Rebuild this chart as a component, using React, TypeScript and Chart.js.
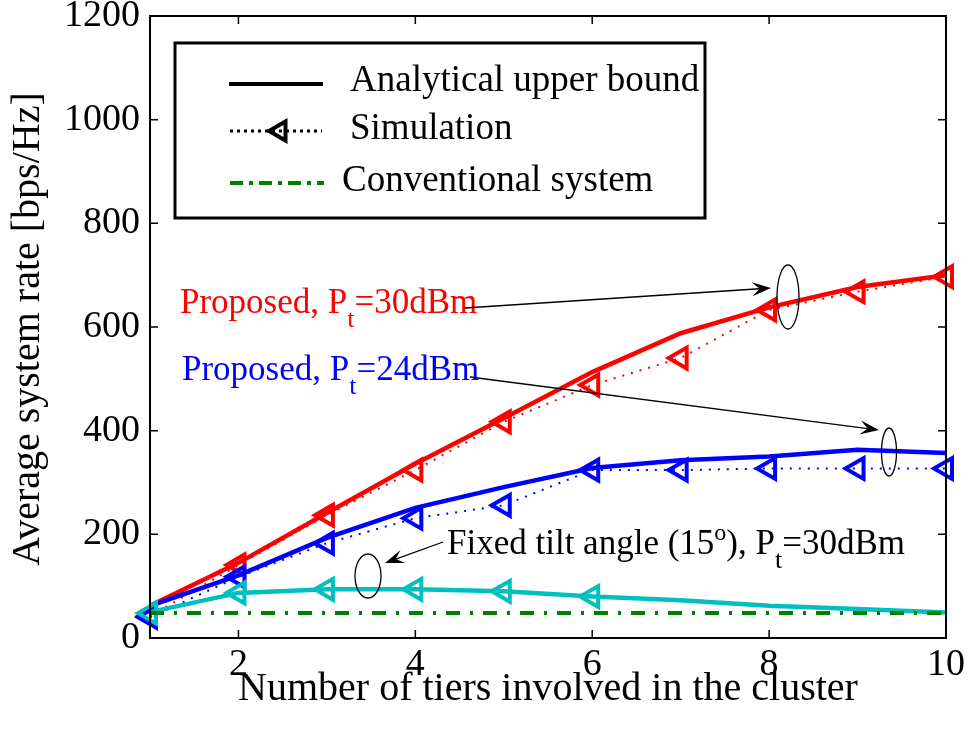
import React, { useEffect, useRef } from "react";
import { Chart, registerables } from "chart.js";

Chart.register(...registerables);

// ---- data ----
const tiers = [1, 2, 3, 4, 5, 6, 7, 8, 9, 10];
const red30Upper = [62, 145, 241, 336, 424, 513, 588, 638, 677, 700];
const red30Sim = [42, 141, 237, 324, 417, 488, 540, 633, 668, 697];
const blue24Upper = [62, 121, 193, 251, 291, 328, 343, 350, 363, 357];
const blue24Sim = [40, 118, 183, 231, 256, 324, 324, 327, 327, 327];
const fixedTiltUpper = [50, 87, 94, 94, 90, 80, 73, 62, 56, 49];
const fixedTiltSim = [48, 87, 94, 94, 90, 80];
const conventional = [48, 48, 48, 48, 48, 48, 48, 48, 48, 48];
const xTicks = [2, 4, 6, 8, 10];
const yTicks = [0, 200, 400, 600, 800, 1000, 1200];

const legendLabels = ["Analytical upper bound", "Simulation", "Conventional system"];
const xTitle = "Number of tiers involved in the cluster";
const yTitle = "Average system rate [bps/Hz]";

const FONT = '"Liberation Serif", "Times New Roman", serif';
const RED = "#ff0000";
const BLUE = "#0000ff";
const CYAN = "#00bfbf";
const GREEN = "#008000";

const pts = (ys: number[]) => ys.map((y, i) => ({ x: tiers[i], y }));

type Part = { text: string; size: number; dy: number };

function drawRich(ctx: CanvasRenderingContext2D, parts: Part[], x: number, y: number, color: string) {
  ctx.fillStyle = color;
  ctx.textBaseline = "alphabetic";
  ctx.textAlign = "left";
  let cx = x;
  for (const p of parts) {
    ctx.font = `${p.size}px ${FONT}`;
    ctx.fillText(p.text, cx, y + p.dy);
    cx += ctx.measureText(p.text).width;
  }
}

function drawArrow(ctx: CanvasRenderingContext2D, x1: number, y1: number, x2: number, y2: number) {
  const ang = Math.atan2(y2 - y1, x2 - x1);
  const L = 19;
  const W = 7;
  ctx.strokeStyle = "#000";
  ctx.lineWidth = 1.3;
  ctx.beginPath();
  ctx.moveTo(x1, y1);
  ctx.lineTo(x2 - Math.cos(ang) * L * 0.6, y2 - Math.sin(ang) * L * 0.6);
  ctx.stroke();
  const cos = Math.cos(ang);
  const sin = Math.sin(ang);
  const bx = x2 - cos * L;
  const by = y2 - sin * L;
  const ix = x2 - cos * L * 0.6;
  const iy = y2 - sin * L * 0.6;
  ctx.fillStyle = "#000";
  ctx.beginPath();
  ctx.moveTo(x2, y2);
  ctx.lineTo(bx - sin * W, by + cos * W);
  ctx.lineTo(ix, iy);
  ctx.lineTo(bx + sin * W, by - cos * W);
  ctx.closePath();
  ctx.fill();
}

function drawEllipse(ctx: CanvasRenderingContext2D, cx: number, cy: number, rx: number, ry: number) {
  ctx.strokeStyle = "#000";
  ctx.lineWidth = 1.3;
  ctx.beginPath();
  ctx.ellipse(cx, cy, rx, ry, 0, 0, Math.PI * 2);
  ctx.stroke();
}

function drawLeftTriangle(ctx: CanvasRenderingContext2D, x: number, y: number, r: number, color: string) {
  ctx.strokeStyle = color;
  ctx.lineWidth = 4;
  ctx.beginPath();
  for (let k = 0; k < 3; k++) {
    const a = -Math.PI / 2 + (k * 2 * Math.PI) / 3;
    const px = x + Math.sin(a) * r;
    const py = y - Math.cos(a) * r;
    if (k === 0) ctx.moveTo(px, py);
    else ctx.lineTo(px, py);
  }
  ctx.closePath();
  ctx.stroke();
}

const decorPlugin = {
  id: "decor",
  afterDraw(chart: any) {
    const ctx: CanvasRenderingContext2D = chart.ctx;
    const { left, right, top, bottom } = chart.chartArea;
    const xs = chart.scales.x;
    const ys = chart.scales.y;
    ctx.save();
    // frame
    ctx.strokeStyle = "#000";
    ctx.lineWidth = 2;
    ctx.strokeRect(left, top, right - left, bottom - top);
    // inward ticks
    ctx.lineWidth = 1.5;
    ctx.beginPath();
    for (const v of yTicks) {
      const py = ys.getPixelForValue(v);
      ctx.moveTo(left, py);
      ctx.lineTo(left + 8, py);
      ctx.moveTo(right, py);
      ctx.lineTo(right - 8, py);
    }
    for (const v of xTicks) {
      const px = xs.getPixelForValue(v);
      ctx.moveTo(px, bottom);
      ctx.lineTo(px, bottom - 8);
      ctx.moveTo(px, top);
      ctx.lineTo(px, top + 8);
    }
    ctx.stroke();

    // axis titles
    ctx.fillStyle = "#000";
    ctx.font = `40px ${FONT}`;
    ctx.textAlign = "center";
    ctx.textBaseline = "alphabetic";
    ctx.fillText(xTitle, (left + right) / 2, 700);
    ctx.save();
    ctx.translate(39, (top + bottom) / 2 + 2);
    ctx.rotate(-Math.PI / 2);
    ctx.fillText(yTitle, 0, 0);
    ctx.restore();

    // legend box
    ctx.fillStyle = "#fff";
    ctx.fillRect(175, 43, 530, 175);
    ctx.strokeStyle = "#000";
    ctx.lineWidth = 3;
    ctx.strokeRect(175, 43, 530, 175);
    // entry 1
    ctx.lineWidth = 4;
    ctx.setLineDash([]);
    ctx.beginPath();
    ctx.moveTo(229, 84);
    ctx.lineTo(323, 84);
    ctx.stroke();
    // entry 2
    ctx.lineWidth = 3;
    ctx.setLineDash([3, 4]);
    ctx.beginPath();
    ctx.moveTo(230, 131);
    ctx.lineTo(322, 131);
    ctx.stroke();
    ctx.setLineDash([]);
    drawLeftTriangle(ctx, 280, 131, 11, "#000");
    // entry 3
    ctx.strokeStyle = GREEN;
    ctx.lineWidth = 4;
    ctx.setLineDash([13, 6, 4, 6]);
    ctx.beginPath();
    ctx.moveTo(230, 183);
    ctx.lineTo(324, 183);
    ctx.stroke();
    ctx.setLineDash([]);
    ctx.fillStyle = "#000";
    ctx.font = `37px ${FONT}`;
    ctx.textAlign = "left";
    ctx.textBaseline = "middle";
    ctx.fillText(legendLabels[0], 350, 81);
    ctx.fillText(legendLabels[1], 350, 129);
    ctx.fillText(legendLabels[2], 342, 181);

    // annotations
    drawRich(
      ctx,
      [
        { text: "Proposed, P", size: 35, dy: 0 },
        { text: "t", size: 26, dy: 14 },
        { text: "=30dBm", size: 35, dy: 0 },
      ],
      180,
      313,
      RED
    );
    drawRich(
      ctx,
      [
        { text: "Proposed, P", size: 35, dy: 0 },
        { text: "t", size: 26, dy: 14 },
        { text: "=24dBm", size: 35, dy: 0 },
      ],
      182,
      380,
      BLUE
    );
    drawRich(
      ctx,
      [
        { text: "Fixed tilt angle (15", size: 35, dy: 0 },
        { text: "o", size: 24, dy: -14 },
        { text: "), P", size: 35, dy: 0 },
        { text: "t", size: 26, dy: 14 },
        { text: "=30dBm", size: 35, dy: 0 },
      ],
      447,
      554,
      "#000"
    );

    drawArrow(ctx, 465, 308, 771, 288);
    drawEllipse(ctx, 788, 297, 11, 32);
    drawArrow(ctx, 470, 377, 879, 430);
    drawEllipse(ctx, 889, 452, 7.5, 24);
    drawArrow(ctx, 443, 542, 385, 563);
    drawEllipse(ctx, 368, 576, 13, 22);

    ctx.restore();
  },
};

const triangleOpts = {
  pointStyle: "triangle",
  pointRotation: -90,
  pointRadius: 12,
  pointHoverRadius: 12,
  pointBorderWidth: 4,
  pointBackgroundColor: "rgba(0,0,0,0)",
};

export default function App() {
  const ref = useRef<HTMLCanvasElement | null>(null);

  useEffect(() => {
    if (!ref.current) return;
    const chart = new Chart(ref.current, {
      type: "line",
      data: {
        datasets: [
          {
            label: "Conventional",
            data: pts(conventional),
            borderColor: GREEN,
            borderWidth: 4,
            borderDash: [14, 10, 3, 10],
            pointRadius: 0,
            clip: false,
          } as any,
          {
            label: "Fixed sim",
            data: pts(fixedTiltSim),
            borderColor: CYAN,
            borderWidth: 2,
            borderDash: [2, 7],
            pointBorderColor: CYAN,
            ...triangleOpts,
            clip: false,
          },
          {
            label: "Fixed upper",
            data: pts(fixedTiltUpper),
            borderColor: CYAN,
            borderWidth: 4.5,
            pointRadius: 0,
            clip: false,
          },
          {
            label: "24 sim",
            data: pts(blue24Sim),
            borderColor: BLUE,
            borderWidth: 2,
            borderDash: [2, 7],
            pointBorderColor: BLUE,
            ...triangleOpts,
            clip: false,
          },
          {
            label: "24 upper",
            data: pts(blue24Upper),
            borderColor: BLUE,
            borderWidth: 4.5,
            pointRadius: 0,
            clip: false,
          },
          {
            label: "30 sim",
            data: pts(red30Sim),
            borderColor: RED,
            borderWidth: 2,
            borderDash: [2, 7],
            pointBorderColor: RED,
            ...triangleOpts,
            clip: false,
          },
          {
            label: "30 upper",
            data: pts(red30Upper),
            borderColor: RED,
            borderWidth: 4.5,
            pointRadius: 0,
            clip: false,
          },
        ],
      },
      options: {
        responsive: false,
        animation: false,
        events: [],
        layout: { padding: { left: 0, right: 23, top: 16, bottom: 0 } },
        plugins: {
          legend: { display: false },
          tooltip: { enabled: false },
        },
        elements: { line: { tension: 0 } },
        scales: {
          x: {
            type: "linear",
            min: 1,
            max: 10,
            grid: { display: false, drawTicks: false },
            border: { display: false },
            ticks: {
              color: "#000",
              font: { family: FONT, size: 38 },
              padding: 4,
              maxRotation: 0,
              callback: (v: any) => String(v),
            },
            afterBuildTicks: (s: any) => {
              s.ticks = xTicks.map((v) => ({ value: v }));
            },
            afterFit: (s: any) => {
              s.height = 91;
              s.paddingLeft = 0;
              s.paddingRight = 0;
              s.paddingTop = 0;
              s.paddingBottom = 0;
            },
          },
          y: {
            type: "linear",
            min: 0,
            max: 1200,
            grid: { display: false, drawTicks: false },
            border: { display: false },
            ticks: {
              color: "#000",
              font: { family: FONT, size: 38 },
              padding: 10,
              callback: (v: any) => String(v),
            },
            afterBuildTicks: (s: any) => {
              s.ticks = yTicks.map((v) => ({ value: v }));
            },
            afterFit: (s: any) => {
              s.width = 150;
              s.paddingLeft = 0;
              s.paddingRight = 0;
              s.paddingTop = 0;
              s.paddingBottom = 0;
            },
          },
        },
      },
      plugins: [decorPlugin],
    } as any);
    return () => chart.destroy();
  }, []);

  return (
    <div style={{ position: "fixed", left: 0, top: 0, width: 969, height: 729, background: "#fff" }}>
      <canvas ref={ref} width={969} height={729} style={{ width: 969, height: 729, display: "block" }} />
    </div>
  );
}
